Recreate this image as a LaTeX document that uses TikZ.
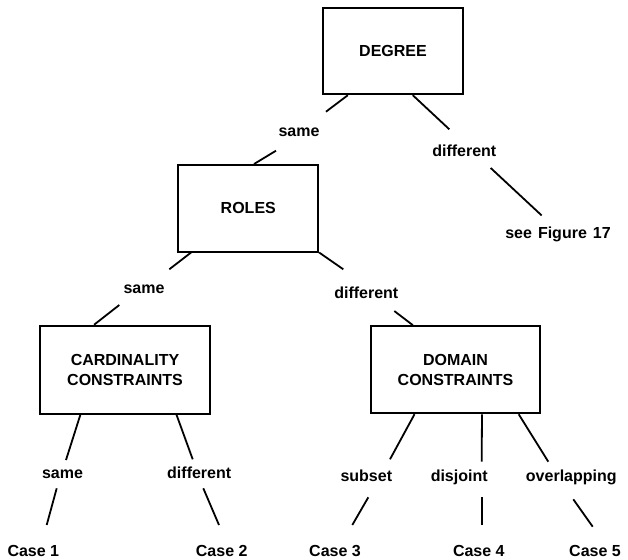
\documentclass[tikz,border=0pt]{standalone}
\usepackage{fontspec}
\setmainfont{Liberation Sans}
\usetikzlibrary{calc}
\begin{document}
\begin{tikzpicture}[x=1pt,y=-1pt,
  every node/.style={font=\bfseries\fontsize{16}{20}\selectfont},
  decision/.style={draw,line width=1.8pt,align=center,inner sep=0pt},
  branch/.style={anchor=base,inner sep=0pt},
  link/.style={line width=1.8pt}]
\useasboundingbox (0,0) rectangle (628,559);

% decision boxes
\node[decision,minimum width=139.4pt,minimum height=86pt] (degree) at (393,51.3) {DEGREE};
\node[decision,minimum width=140pt,minimum height=86.7pt] (roles) at (248.3,208.3) {ROLES};
\node[decision,minimum width=170pt,minimum height=88.3pt] (card) at (125,369.8) {CARDINALITY\\CONSTRAINTS};
\node[decision,minimum width=169pt,minimum height=87.3pt] (domain) at (455.5,369.7) {DOMAIN\\CONSTRAINTS};

% branch labels
\node[branch] (same1) at (299,136.7) {same};
\node[branch] (diff1) at (464.3,156.7) {different};
\node[branch] (fig) at (558,238) {see\hspace{6pt}Figure\hspace{6pt}17};
\node[branch] (same2) at (144,293.3) {same};
\node[branch] (diff2) at (366.3,298.3) {different};
\node[branch] (same3) at (62.5,478.3) {same};
\node[branch] (diff3) at (199.2,478.3) {different};
\node[branch] (subset) at (366.3,481.7) {subset};
\node[branch] (disjoint) at (459.2,481.7) {disjoint};
\node[branch] (overlap) at (571.3,481.7) {overlapping};
\node[branch] (case1) at (33.3,556.7) {Case 1};
\node[branch] (case2) at (221.7,556.7) {Case 2};
\node[branch] (case3) at (335,556.7) {Case 3};
\node[branch] (case4) at (478.8,556.7) {Case 4};
\node[branch] (case5) at (595,556.7) {Case 5};

% free ends of the connectors, next to the labels
\coordinate (same1in) at (326,111.7);
\coordinate (same1out) at (276,150.7);
\coordinate (diff1in) at (449.3,129.3);
\coordinate (diff1out) at (490.7,168);
\coordinate (figin) at (541.7,215.5);
\coordinate (same2in) at (169.3,269.3);
\coordinate (same2out) at (119.3,305);
\coordinate (diff2in) at (343.3,269.3);
\coordinate (diff2out) at (394.3,311);
\coordinate (same3in) at (66,460);
\coordinate (same3out) at (56.7,488.3);
\coordinate (case1in) at (46.7,525);
\coordinate (diff3in) at (192.7,459.3);
\coordinate (diff3out) at (203.3,488.3);
\coordinate (case2in) at (219,525);
\coordinate (subsetin) at (390,459.3);
\coordinate (subsetout) at (368.3,497.3);
\coordinate (case3in) at (352.3,525);
\coordinate (disjointin) at (481.7,461.7);
\coordinate (disjointout) at (481.7,497);
\coordinate (case4in) at (481.7,525);
\coordinate (overlapin) at (548.3,461.7);
\coordinate (overlapout) at (573.3,499.3);
\coordinate (case5in) at (592.7,526.7);

% connectors
\draw[link] ($(degree.south west)!0.18!(degree.south east)$) -- (same1in);
\draw[link] (same1out) -- ($(roles.north west)!0.54!(roles.north east)$);
\draw[link] ($(degree.south west)!0.64!(degree.south east)$) -- (diff1in);
\draw[link] (diff1out) -- (figin);

\draw[link] ($(roles.south west)!0.096!(roles.south east)$) -- (same2in);
\draw[link] (same2out) -- ($(card.north west)!0.32!(card.north east)$);
\draw[link] (roles.south east) -- (diff2in);
\draw[link] (diff2out) -- ($(domain.north west)!0.25!(domain.north east)$);

\draw[link] ($(card.south west)!0.24!(card.south east)$) -- (same3in);
\draw[link] (same3out) -- (case1in);
\draw[link] ($(card.south west)!0.80!(card.south east)$) -- (diff3in);
\draw[link] (diff3out) -- (case2in);

\draw[link] ($(domain.south west)!0.26!(domain.south east)$) -- (subsetin);
\draw[link] (subsetout) -- (case3in);
\draw[link] ($(domain.south west)!0.655!(domain.south east)$) -- (disjointin);
\draw[link] (disjointout) -- (case4in);
\draw[link] ($(domain.south west)!0.87!(domain.south east)$) -- (overlapin);
\draw[link] (overlapout) -- (case5in);
\end{tikzpicture}
\end{document}
